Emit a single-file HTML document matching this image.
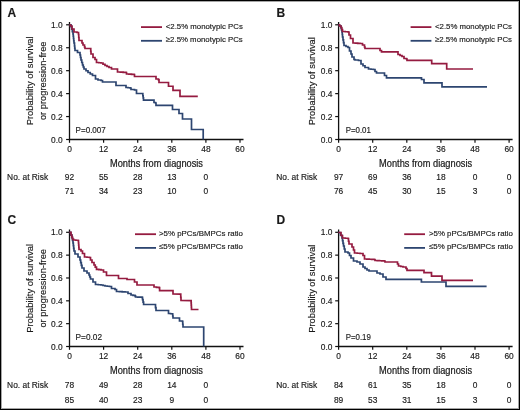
<!DOCTYPE html>
<html><head><meta charset="utf-8"><style>
html,body{margin:0;padding:0;background:#fff;}
body{width:520px;height:410px;overflow:hidden;}
svg{display:block;will-change:transform;}
text{font-family:'Liberation Sans', sans-serif;fill:#1a1a1a;stroke:#1a1a1a;stroke-width:0.15px;}
</style></head><body>
<svg width="520" height="410" viewBox="0 0 520 410">
<rect x="0" y="0" width="520" height="410" fill="#fff"/>
<text x="7.5" y="16.9" font-size="12" text-anchor="start" font-weight="bold">A</text>
<path d="M69.50,22.00 V139.50 H243.50" fill="none" stroke="#111" stroke-width="1.3"/>
<path d="M66.10,139.50 H69.50" stroke="#111" stroke-width="1.2"/>
<text x="62.7" y="142.5" font-size="8.4" text-anchor="end" font-weight="normal">0.0</text>
<path d="M66.10,116.56 H69.50" stroke="#111" stroke-width="1.2"/>
<text x="62.7" y="119.56" font-size="8.4" text-anchor="end" font-weight="normal">0.2</text>
<path d="M66.10,93.62 H69.50" stroke="#111" stroke-width="1.2"/>
<text x="62.7" y="96.62" font-size="8.4" text-anchor="end" font-weight="normal">0.4</text>
<path d="M66.10,70.68 H69.50" stroke="#111" stroke-width="1.2"/>
<text x="62.7" y="73.67999999999999" font-size="8.4" text-anchor="end" font-weight="normal">0.6</text>
<path d="M66.10,47.74 H69.50" stroke="#111" stroke-width="1.2"/>
<text x="62.7" y="50.739999999999995" font-size="8.4" text-anchor="end" font-weight="normal">0.8</text>
<path d="M66.10,24.80 H69.50" stroke="#111" stroke-width="1.2"/>
<text x="62.7" y="27.799999999999997" font-size="8.4" text-anchor="end" font-weight="normal">1.0</text>
<path d="M69.50,139.50 V142.80" stroke="#111" stroke-width="1.2"/>
<text x="69.5" y="152.1" font-size="8.4" text-anchor="middle" font-weight="normal">0</text>
<path d="M103.60,139.50 V142.80" stroke="#111" stroke-width="1.2"/>
<text x="103.6" y="152.1" font-size="8.4" text-anchor="middle" font-weight="normal">12</text>
<path d="M137.70,139.50 V142.80" stroke="#111" stroke-width="1.2"/>
<text x="137.7" y="152.1" font-size="8.4" text-anchor="middle" font-weight="normal">24</text>
<path d="M171.80,139.50 V142.80" stroke="#111" stroke-width="1.2"/>
<text x="171.8" y="152.1" font-size="8.4" text-anchor="middle" font-weight="normal">36</text>
<path d="M205.90,139.50 V142.80" stroke="#111" stroke-width="1.2"/>
<text x="205.9" y="152.1" font-size="8.4" text-anchor="middle" font-weight="normal">48</text>
<path d="M240.00,139.50 V142.80" stroke="#111" stroke-width="1.2"/>
<text x="240.0" y="152.1" font-size="8.4" text-anchor="middle" font-weight="normal">60</text>
<text x="156.5" y="166.9" font-size="10.2" text-anchor="middle" font-weight="normal" textLength="93" lengthAdjust="spacingAndGlyphs" style="stroke-width:0.22px">Months from diagnosis</text>
<g transform="translate(33.00,80.80) rotate(-90)"><text x="0" y="0" font-size="9.2" text-anchor="middle" font-weight="normal" textLength="89" lengthAdjust="spacingAndGlyphs">Probability of survival</text></g>
<g transform="translate(45.50,80.80) rotate(-90)"><text x="0" y="0" font-size="9.2" text-anchor="middle" font-weight="normal" textLength="78.6" lengthAdjust="spacingAndGlyphs">or progression-free</text></g>
<path d="M141,27.10 H162" stroke="#951b40" stroke-width="1.8"/>
<path d="M141,40.80 H162" stroke="#2d4570" stroke-width="1.8"/>
<text x="165.8" y="29.4" font-size="7.9" text-anchor="start" font-weight="normal" textLength="77" lengthAdjust="spacingAndGlyphs">&lt;2.5% monotypic PCs</text>
<text x="165.8" y="42.400000000000006" font-size="7.9" text-anchor="start" font-weight="normal" textLength="77" lengthAdjust="spacingAndGlyphs">≥2.5% monotypic PCs</text>
<text x="75.6" y="132.9" font-size="8.3" text-anchor="start" font-weight="normal" textLength="30.2" lengthAdjust="spacingAndGlyphs">P=0.007</text>
<text x="7.100000000000001" y="179.8" font-size="8.4" text-anchor="start" font-weight="normal" textLength="41" lengthAdjust="spacingAndGlyphs">No. at Risk</text>
<text x="69.5" y="179.8" font-size="8.4" text-anchor="middle" font-weight="normal">92</text>
<text x="69.5" y="194.3" font-size="8.4" text-anchor="middle" font-weight="normal">71</text>
<text x="103.6" y="179.8" font-size="8.4" text-anchor="middle" font-weight="normal">55</text>
<text x="103.6" y="194.3" font-size="8.4" text-anchor="middle" font-weight="normal">34</text>
<text x="137.7" y="179.8" font-size="8.4" text-anchor="middle" font-weight="normal">28</text>
<text x="137.7" y="194.3" font-size="8.4" text-anchor="middle" font-weight="normal">23</text>
<text x="171.8" y="179.8" font-size="8.4" text-anchor="middle" font-weight="normal">13</text>
<text x="171.8" y="194.3" font-size="8.4" text-anchor="middle" font-weight="normal">10</text>
<text x="205.9" y="179.8" font-size="8.4" text-anchor="middle" font-weight="normal">0</text>
<text x="205.9" y="194.3" font-size="8.4" text-anchor="middle" font-weight="normal">0</text>
<polyline points="69.50,24.80 71.00,24.80 71.00,26.70 71.67,26.70 71.67,29.13 72.33,29.13 72.33,31.57 73.00,31.57 73.00,34.00 73.25,34.00 73.25,36.25 73.50,36.25 73.50,38.50 73.75,38.50 73.75,40.75 74.00,40.75 74.00,43.00 74.50,43.00 74.50,46.00 74.75,46.00 74.75,48.25 75.00,48.25 75.00,50.50 77.50,50.50 77.50,52.50 80.00,52.50 80.00,55.00 80.50,55.00 80.50,57.50 81.00,57.50 81.00,60.00 81.75,60.00 81.75,62.50 82.50,62.50 82.50,65.00 83.25,65.00 83.25,67.00 84.00,67.00 84.00,69.00 86.00,69.00 86.00,70.75 88.00,70.75 88.00,72.50 90.25,72.50 90.25,74.00 92.50,74.00 92.50,75.50 95.50,75.50 95.50,79.00 98.00,79.00 98.00,80.00 101.00,80.00 101.00,80.50 102.50,80.50 102.50,82.00 114.50,82.00 116.00,82.00 116.00,85.50 125.00,85.50 126.00,85.50 126.00,87.50 128.00,87.50 128.00,87.75 130.00,87.75 130.00,88.00 131.00,88.00 131.00,89.50 134.50,89.50 134.50,90.00 136.50,90.00 136.50,93.50 142.50,93.50 142.83,93.50 142.83,95.73 143.17,95.73 143.17,97.97 143.50,97.97 143.50,100.20 153.00,100.20 154.00,100.20 154.00,102.50 155.50,102.50 155.50,103.00 156.00,103.00 156.00,105.40 172.50,105.40 172.50,109.50 179.00,109.50 179.00,113.50 182.50,113.50 182.50,119.00 191.50,119.00 191.50,129.50 203.20,129.50 203.20,139.50" fill="none" stroke="#2d4570" stroke-width="1.7" stroke-linejoin="miter" stroke-linecap="butt"/>
<polyline points="69.50,24.80 70.40,24.80 70.40,26.00 72.00,26.00 72.00,29.00 74.00,29.00 74.00,32.00 77.00,32.00 77.00,32.50 78.50,32.50 78.50,34.50 78.75,34.50 78.75,37.50 79.00,37.50 79.00,40.50 82.00,40.50 82.00,43.00 83.00,43.00 83.00,45.00 84.50,45.00 84.50,47.00 85.00,47.00 85.00,48.50 90.50,48.50 90.75,48.50 90.75,51.25 91.00,51.25 91.00,54.00 93.00,54.00 93.00,57.50 95.00,57.50 95.00,59.50 96.50,59.50 96.50,62.50 98.75,62.50 98.75,62.75 101.00,62.75 101.00,63.00 103.00,63.00 103.00,64.25 105.00,64.25 105.00,65.50 107.00,65.50 107.00,66.50 109.00,66.50 109.00,67.50 111.50,67.50 111.50,69.00 116.00,69.00 117.50,69.00 117.50,72.00 120.33,72.00 120.33,72.17 123.17,72.17 123.17,72.33 126.00,72.33 126.00,72.50 126.50,72.50 126.50,74.00 129.00,74.00 129.00,74.17 131.50,74.17 131.50,74.33 134.00,74.33 134.00,74.50 134.50,74.50 134.50,76.50 155.60,76.50 156.00,76.50 156.00,79.00 158.50,79.00 158.50,79.80 159.00,79.80 159.00,82.50 168.50,82.50 168.50,86.25 173.00,86.25 173.00,90.40 180.00,90.40 180.00,96.30 197.80,96.30" fill="none" stroke="#951b40" stroke-width="1.7" stroke-linejoin="miter" stroke-linecap="butt"/>
<text x="276.6" y="16.9" font-size="12" text-anchor="start" font-weight="bold">B</text>
<path d="M338.60,22.00 V139.50 H512.60" fill="none" stroke="#111" stroke-width="1.3"/>
<path d="M335.20,139.50 H338.60" stroke="#111" stroke-width="1.2"/>
<text x="332.5" y="142.5" font-size="8.4" text-anchor="end" font-weight="normal">0.0</text>
<path d="M335.20,116.56 H338.60" stroke="#111" stroke-width="1.2"/>
<text x="332.5" y="119.56" font-size="8.4" text-anchor="end" font-weight="normal">0.2</text>
<path d="M335.20,93.62 H338.60" stroke="#111" stroke-width="1.2"/>
<text x="332.5" y="96.62" font-size="8.4" text-anchor="end" font-weight="normal">0.4</text>
<path d="M335.20,70.68 H338.60" stroke="#111" stroke-width="1.2"/>
<text x="332.5" y="73.67999999999999" font-size="8.4" text-anchor="end" font-weight="normal">0.6</text>
<path d="M335.20,47.74 H338.60" stroke="#111" stroke-width="1.2"/>
<text x="332.5" y="50.739999999999995" font-size="8.4" text-anchor="end" font-weight="normal">0.8</text>
<path d="M335.20,24.80 H338.60" stroke="#111" stroke-width="1.2"/>
<text x="332.5" y="27.799999999999997" font-size="8.4" text-anchor="end" font-weight="normal">1.0</text>
<path d="M338.60,139.50 V142.80" stroke="#111" stroke-width="1.2"/>
<text x="338.6" y="152.1" font-size="8.4" text-anchor="middle" font-weight="normal">0</text>
<path d="M372.70,139.50 V142.80" stroke="#111" stroke-width="1.2"/>
<text x="372.70000000000005" y="152.1" font-size="8.4" text-anchor="middle" font-weight="normal">12</text>
<path d="M406.80,139.50 V142.80" stroke="#111" stroke-width="1.2"/>
<text x="406.8" y="152.1" font-size="8.4" text-anchor="middle" font-weight="normal">24</text>
<path d="M440.90,139.50 V142.80" stroke="#111" stroke-width="1.2"/>
<text x="440.90000000000003" y="152.1" font-size="8.4" text-anchor="middle" font-weight="normal">36</text>
<path d="M475.00,139.50 V142.80" stroke="#111" stroke-width="1.2"/>
<text x="475.0" y="152.1" font-size="8.4" text-anchor="middle" font-weight="normal">48</text>
<path d="M509.10,139.50 V142.80" stroke="#111" stroke-width="1.2"/>
<text x="509.1" y="152.1" font-size="8.4" text-anchor="middle" font-weight="normal">60</text>
<text x="425.6" y="166.9" font-size="10.2" text-anchor="middle" font-weight="normal" textLength="93" lengthAdjust="spacingAndGlyphs" style="stroke-width:0.22px">Months from diagnosis</text>
<g transform="translate(315.10,81.20) rotate(-90)"><text x="0" y="0" font-size="9.2" text-anchor="middle" font-weight="normal" textLength="88" lengthAdjust="spacingAndGlyphs">Probability of survival</text></g>
<path d="M410.6,27.10 H431.4" stroke="#951b40" stroke-width="1.8"/>
<path d="M410.6,40.80 H431.4" stroke="#2d4570" stroke-width="1.8"/>
<text x="435" y="29.4" font-size="7.9" text-anchor="start" font-weight="normal" textLength="77" lengthAdjust="spacingAndGlyphs">&lt;2.5% monotypic PCs</text>
<text x="435" y="42.400000000000006" font-size="7.9" text-anchor="start" font-weight="normal" textLength="77" lengthAdjust="spacingAndGlyphs">≥2.5% monotypic PCs</text>
<text x="345.70000000000005" y="132.7" font-size="8.3" text-anchor="start" font-weight="normal" textLength="25.2" lengthAdjust="spacingAndGlyphs">P=0.01</text>
<text x="276.20000000000005" y="179.8" font-size="8.4" text-anchor="start" font-weight="normal" textLength="41" lengthAdjust="spacingAndGlyphs">No. at Risk</text>
<text x="338.6" y="179.8" font-size="8.4" text-anchor="middle" font-weight="normal">97</text>
<text x="338.6" y="194.3" font-size="8.4" text-anchor="middle" font-weight="normal">76</text>
<text x="372.70000000000005" y="179.8" font-size="8.4" text-anchor="middle" font-weight="normal">69</text>
<text x="372.70000000000005" y="194.3" font-size="8.4" text-anchor="middle" font-weight="normal">45</text>
<text x="406.8" y="179.8" font-size="8.4" text-anchor="middle" font-weight="normal">36</text>
<text x="406.8" y="194.3" font-size="8.4" text-anchor="middle" font-weight="normal">30</text>
<text x="440.90000000000003" y="179.8" font-size="8.4" text-anchor="middle" font-weight="normal">18</text>
<text x="440.90000000000003" y="194.3" font-size="8.4" text-anchor="middle" font-weight="normal">15</text>
<text x="475.0" y="179.8" font-size="8.4" text-anchor="middle" font-weight="normal">0</text>
<text x="475.0" y="194.3" font-size="8.4" text-anchor="middle" font-weight="normal">3</text>
<text x="509.1" y="179.8" font-size="8.4" text-anchor="middle" font-weight="normal">0</text>
<text x="509.1" y="194.3" font-size="8.4" text-anchor="middle" font-weight="normal">0</text>
<polyline points="338.50,24.80 339.50,24.80 339.50,26.00 341.00,26.00 341.00,28.00 341.50,28.00 341.50,30.00 342.00,30.00 342.00,32.00 342.25,32.00 342.25,34.50 342.50,34.50 342.50,37.00 343.00,37.00 343.00,39.83 343.50,39.83 343.50,42.67 344.00,42.67 344.00,45.50 346.00,45.50 346.00,46.50 348.00,46.50 348.00,47.50 349.50,47.50 349.50,51.00 351.00,51.00 351.00,54.00 352.00,54.00 352.00,57.00 354.00,57.00 354.00,59.50 355.00,59.50 355.00,60.00 358.50,60.00 358.50,60.50 361.00,60.50 361.00,64.00 363.00,64.00 363.00,65.75 365.00,65.75 365.00,67.50 368.50,67.50 368.50,69.00 371.00,69.00 371.00,69.25 373.50,69.25 373.50,69.50 375.00,69.50 375.00,71.50 376.50,71.50 376.50,73.00 381.50,73.00 384.50,73.00 384.50,75.50 386.50,75.50 386.50,77.80 421.00,77.80 421.50,77.80 421.50,79.50 424.00,79.50 424.00,80.00 424.00,82.80 442.00,82.80 442.00,86.80 487.00,86.80" fill="none" stroke="#2d4570" stroke-width="1.7" stroke-linejoin="miter" stroke-linecap="butt"/>
<polyline points="338.50,24.80 339.50,24.80 339.50,26.00 341.00,26.00 341.00,27.50 341.75,27.50 341.75,29.50 342.50,29.50 342.50,31.50 345.25,31.50 345.25,31.75 348.00,31.75 348.00,32.00 349.00,32.00 349.00,35.00 350.50,35.00 350.50,38.50 353.00,38.50 353.00,40.50 353.00,43.00 355.33,43.00 355.33,43.17 357.67,43.17 357.67,43.33 360.00,43.33 360.00,43.50 362.50,43.50 362.50,45.00 364.50,45.00 364.50,47.00 365.00,47.00 365.00,48.50 379.00,48.50 380.00,48.50 380.00,50.50 381.50,50.50 381.50,51.80 396.00,51.80 398.00,51.80 398.00,54.50 400.00,54.50 400.00,55.50 402.00,55.50 402.00,56.50 404.00,56.50 404.00,58.50 406.50,58.50 406.50,59.00 407.00,59.00 407.00,60.40 431.70,60.40 431.70,63.60 446.70,63.60 446.70,69.00 473.00,69.00" fill="none" stroke="#951b40" stroke-width="1.7" stroke-linejoin="miter" stroke-linecap="butt"/>
<text x="7.5" y="224.4" font-size="12" text-anchor="start" font-weight="bold">C</text>
<path d="M69.50,229.50 V346.50 H243.50" fill="none" stroke="#111" stroke-width="1.3"/>
<path d="M66.10,346.50 H69.50" stroke="#111" stroke-width="1.2"/>
<text x="62.7" y="349.5" font-size="8.4" text-anchor="end" font-weight="normal">0.0</text>
<path d="M66.10,323.66 H69.50" stroke="#111" stroke-width="1.2"/>
<text x="62.7" y="326.66" font-size="8.4" text-anchor="end" font-weight="normal">0.2</text>
<path d="M66.10,300.82 H69.50" stroke="#111" stroke-width="1.2"/>
<text x="62.7" y="303.82" font-size="8.4" text-anchor="end" font-weight="normal">0.4</text>
<path d="M66.10,277.98 H69.50" stroke="#111" stroke-width="1.2"/>
<text x="62.7" y="280.98" font-size="8.4" text-anchor="end" font-weight="normal">0.6</text>
<path d="M66.10,255.14 H69.50" stroke="#111" stroke-width="1.2"/>
<text x="62.7" y="258.14" font-size="8.4" text-anchor="end" font-weight="normal">0.8</text>
<path d="M66.10,232.30 H69.50" stroke="#111" stroke-width="1.2"/>
<text x="62.7" y="235.3" font-size="8.4" text-anchor="end" font-weight="normal">1.0</text>
<path d="M69.50,346.50 V349.80" stroke="#111" stroke-width="1.2"/>
<text x="69.5" y="359.1" font-size="8.4" text-anchor="middle" font-weight="normal">0</text>
<path d="M103.60,346.50 V349.80" stroke="#111" stroke-width="1.2"/>
<text x="103.6" y="359.1" font-size="8.4" text-anchor="middle" font-weight="normal">12</text>
<path d="M137.70,346.50 V349.80" stroke="#111" stroke-width="1.2"/>
<text x="137.7" y="359.1" font-size="8.4" text-anchor="middle" font-weight="normal">24</text>
<path d="M171.80,346.50 V349.80" stroke="#111" stroke-width="1.2"/>
<text x="171.8" y="359.1" font-size="8.4" text-anchor="middle" font-weight="normal">36</text>
<path d="M205.90,346.50 V349.80" stroke="#111" stroke-width="1.2"/>
<text x="205.9" y="359.1" font-size="8.4" text-anchor="middle" font-weight="normal">48</text>
<path d="M240.00,346.50 V349.80" stroke="#111" stroke-width="1.2"/>
<text x="240.0" y="359.1" font-size="8.4" text-anchor="middle" font-weight="normal">60</text>
<text x="156.5" y="373.9" font-size="10.2" text-anchor="middle" font-weight="normal" textLength="93" lengthAdjust="spacingAndGlyphs" style="stroke-width:0.22px">Months from diagnosis</text>
<g transform="translate(33.00,288.30) rotate(-90)"><text x="0" y="0" font-size="9.2" text-anchor="middle" font-weight="normal" textLength="89" lengthAdjust="spacingAndGlyphs">Probability of survival</text></g>
<g transform="translate(45.50,288.30) rotate(-90)"><text x="0" y="0" font-size="9.2" text-anchor="middle" font-weight="normal" textLength="78.6" lengthAdjust="spacingAndGlyphs">or progression-free</text></g>
<path d="M135,234.20 H156" stroke="#951b40" stroke-width="1.8"/>
<path d="M135,247.90 H156" stroke="#2d4570" stroke-width="1.8"/>
<text x="159" y="236.1" font-size="7.9" text-anchor="start" font-weight="normal" textLength="84" lengthAdjust="spacingAndGlyphs">&gt;5% pPCs/BMPCs ratio</text>
<text x="159" y="249.1" font-size="7.9" text-anchor="start" font-weight="normal" textLength="84" lengthAdjust="spacingAndGlyphs">≤5% pPCs/BMPCs ratio</text>
<text x="75.6" y="339.9" font-size="8.3" text-anchor="start" font-weight="normal" textLength="26.4" lengthAdjust="spacingAndGlyphs">P=0.02</text>
<text x="7.100000000000001" y="388.0" font-size="8.4" text-anchor="start" font-weight="normal" textLength="41" lengthAdjust="spacingAndGlyphs">No. at Risk</text>
<text x="69.5" y="388.0" font-size="8.4" text-anchor="middle" font-weight="normal">78</text>
<text x="69.5" y="402.5" font-size="8.4" text-anchor="middle" font-weight="normal">85</text>
<text x="103.6" y="388.0" font-size="8.4" text-anchor="middle" font-weight="normal">49</text>
<text x="103.6" y="402.5" font-size="8.4" text-anchor="middle" font-weight="normal">40</text>
<text x="137.7" y="388.0" font-size="8.4" text-anchor="middle" font-weight="normal">28</text>
<text x="137.7" y="402.5" font-size="8.4" text-anchor="middle" font-weight="normal">23</text>
<text x="171.8" y="388.0" font-size="8.4" text-anchor="middle" font-weight="normal">14</text>
<text x="171.8" y="402.5" font-size="8.4" text-anchor="middle" font-weight="normal">9</text>
<text x="205.9" y="388.0" font-size="8.4" text-anchor="middle" font-weight="normal">0</text>
<text x="205.9" y="402.5" font-size="8.4" text-anchor="middle" font-weight="normal">0</text>
<polyline points="69.50,232.30 70.75,232.30 70.75,235.15 72.00,235.15 72.00,238.00 72.50,238.00 72.50,240.50 73.00,240.50 73.00,243.00 73.33,243.00 73.33,245.67 73.67,245.67 73.67,248.33 74.00,248.33 74.00,251.00 75.00,251.00 75.00,254.00 78.00,254.00 78.00,257.00 80.00,257.00 80.00,260.00 80.67,260.00 80.67,262.67 81.33,262.67 81.33,265.33 82.00,265.33 82.00,268.00 84.00,268.00 84.00,271.00 87.00,271.00 87.00,273.00 89.00,273.00 89.00,275.00 89.75,275.00 89.75,277.00 90.50,277.00 90.50,279.00 93.00,279.00 93.00,282.00 95.50,282.00 95.50,284.50 98.25,284.50 98.25,284.75 101.00,284.75 101.00,285.00 103.00,285.00 103.00,285.50 105.00,285.50 105.00,286.00 107.25,286.00 107.25,286.25 109.50,286.25 109.50,286.50 111.50,286.50 111.50,288.50 115.00,288.50 115.00,289.50 116.50,289.50 116.50,291.50 119.33,291.50 119.33,291.67 122.17,291.67 122.17,291.83 125.00,291.83 125.00,292.00 128.00,292.00 128.00,293.50 131.00,293.50 131.00,295.00 133.00,295.00 133.00,295.40 135.00,295.40 135.00,295.80 135.50,295.80 135.50,297.00 137.67,297.00 137.67,297.10 139.83,297.10 139.83,297.20 142.00,297.20 142.00,297.30 142.53,297.30 142.53,299.70 143.07,299.70 143.07,302.10 143.60,302.10 143.60,304.50 155.00,304.50 155.50,304.50 155.50,307.60 156.00,307.60 156.00,310.50 168.00,310.50 168.50,310.50 168.50,313.50 170.50,313.50 170.50,313.75 172.50,313.75 172.50,314.00 172.75,314.00 172.75,316.00 173.00,316.00 173.00,318.00 179.00,318.00 179.50,318.00 179.50,321.00 182.50,321.00 182.50,321.50 182.75,321.50 182.75,324.25 183.00,324.25 183.00,327.00 203.70,327.00 203.70,346.50" fill="none" stroke="#2d4570" stroke-width="1.7" stroke-linejoin="miter" stroke-linecap="butt"/>
<polyline points="69.50,232.30 71.00,232.30 71.00,235.00 71.75,235.00 71.75,237.00 72.50,237.00 72.50,239.00 73.50,239.00 73.50,240.00 75.75,240.00 75.75,240.25 78.00,240.25 78.00,240.50 78.50,240.50 78.50,243.00 78.67,243.00 78.67,245.17 78.83,245.17 78.83,247.33 79.00,247.33 79.00,249.50 81.00,249.50 81.00,251.00 82.50,251.00 82.50,253.50 84.50,253.50 84.50,257.00 87.00,257.00 87.00,257.25 89.50,257.25 89.50,257.50 90.50,257.50 90.50,260.00 92.00,260.00 92.00,262.50 94.00,262.50 94.00,265.00 95.25,265.00 95.25,267.15 96.50,267.15 96.50,269.30 98.75,269.30 98.75,269.65 101.00,269.65 101.00,270.00 103.50,270.00 103.50,272.00 106.50,272.00 106.50,275.50 115.00,275.50 118.50,275.50 118.50,278.50 125.00,278.50 127.00,278.50 127.00,279.50 133.50,279.50 134.50,279.50 134.50,282.00 137.00,282.00 137.00,285.00 153.00,285.00 154.00,285.00 154.00,287.00 156.50,287.00 156.50,287.30 159.00,287.30 159.00,287.60 159.60,287.60 159.60,290.70 172.00,290.70 173.00,290.70 173.00,294.00 180.50,294.20 180.75,294.20 180.75,297.30 181.00,297.30 181.00,300.40 191.00,300.60 191.12,300.60 191.12,302.83 191.25,302.83 191.25,305.05 191.38,305.05 191.38,307.27 191.50,307.27 191.50,309.50 198.50,309.50" fill="none" stroke="#951b40" stroke-width="1.7" stroke-linejoin="miter" stroke-linecap="butt"/>
<text x="276.6" y="224.4" font-size="12" text-anchor="start" font-weight="bold">D</text>
<path d="M338.60,229.50 V346.50 H512.60" fill="none" stroke="#111" stroke-width="1.3"/>
<path d="M335.20,346.50 H338.60" stroke="#111" stroke-width="1.2"/>
<text x="332.5" y="349.5" font-size="8.4" text-anchor="end" font-weight="normal">0.0</text>
<path d="M335.20,323.66 H338.60" stroke="#111" stroke-width="1.2"/>
<text x="332.5" y="326.66" font-size="8.4" text-anchor="end" font-weight="normal">0.2</text>
<path d="M335.20,300.82 H338.60" stroke="#111" stroke-width="1.2"/>
<text x="332.5" y="303.82" font-size="8.4" text-anchor="end" font-weight="normal">0.4</text>
<path d="M335.20,277.98 H338.60" stroke="#111" stroke-width="1.2"/>
<text x="332.5" y="280.98" font-size="8.4" text-anchor="end" font-weight="normal">0.6</text>
<path d="M335.20,255.14 H338.60" stroke="#111" stroke-width="1.2"/>
<text x="332.5" y="258.14" font-size="8.4" text-anchor="end" font-weight="normal">0.8</text>
<path d="M335.20,232.30 H338.60" stroke="#111" stroke-width="1.2"/>
<text x="332.5" y="235.3" font-size="8.4" text-anchor="end" font-weight="normal">1.0</text>
<path d="M338.60,346.50 V349.80" stroke="#111" stroke-width="1.2"/>
<text x="338.6" y="359.1" font-size="8.4" text-anchor="middle" font-weight="normal">0</text>
<path d="M372.70,346.50 V349.80" stroke="#111" stroke-width="1.2"/>
<text x="372.70000000000005" y="359.1" font-size="8.4" text-anchor="middle" font-weight="normal">12</text>
<path d="M406.80,346.50 V349.80" stroke="#111" stroke-width="1.2"/>
<text x="406.8" y="359.1" font-size="8.4" text-anchor="middle" font-weight="normal">24</text>
<path d="M440.90,346.50 V349.80" stroke="#111" stroke-width="1.2"/>
<text x="440.90000000000003" y="359.1" font-size="8.4" text-anchor="middle" font-weight="normal">36</text>
<path d="M475.00,346.50 V349.80" stroke="#111" stroke-width="1.2"/>
<text x="475.0" y="359.1" font-size="8.4" text-anchor="middle" font-weight="normal">48</text>
<path d="M509.10,346.50 V349.80" stroke="#111" stroke-width="1.2"/>
<text x="509.1" y="359.1" font-size="8.4" text-anchor="middle" font-weight="normal">60</text>
<text x="425.6" y="373.9" font-size="10.2" text-anchor="middle" font-weight="normal" textLength="93" lengthAdjust="spacingAndGlyphs" style="stroke-width:0.22px">Months from diagnosis</text>
<g transform="translate(315.10,288.70) rotate(-90)"><text x="0" y="0" font-size="9.2" text-anchor="middle" font-weight="normal" textLength="88" lengthAdjust="spacingAndGlyphs">Probability of survival</text></g>
<path d="M404.2,234.20 H425" stroke="#951b40" stroke-width="1.8"/>
<path d="M404.2,247.90 H425" stroke="#2d4570" stroke-width="1.8"/>
<text x="428.9" y="236.1" font-size="7.9" text-anchor="start" font-weight="normal" textLength="84" lengthAdjust="spacingAndGlyphs">&gt;5% pPCs/BMPCs ratio</text>
<text x="428.9" y="249.1" font-size="7.9" text-anchor="start" font-weight="normal" textLength="84" lengthAdjust="spacingAndGlyphs">≤5% pPCs/BMPCs ratio</text>
<text x="345.70000000000005" y="339.5" font-size="8.3" text-anchor="start" font-weight="normal" textLength="25.2" lengthAdjust="spacingAndGlyphs">P=0.19</text>
<text x="276.20000000000005" y="388.0" font-size="8.4" text-anchor="start" font-weight="normal" textLength="41" lengthAdjust="spacingAndGlyphs">No. at Risk</text>
<text x="338.6" y="388.0" font-size="8.4" text-anchor="middle" font-weight="normal">84</text>
<text x="338.6" y="402.5" font-size="8.4" text-anchor="middle" font-weight="normal">89</text>
<text x="372.70000000000005" y="388.0" font-size="8.4" text-anchor="middle" font-weight="normal">61</text>
<text x="372.70000000000005" y="402.5" font-size="8.4" text-anchor="middle" font-weight="normal">53</text>
<text x="406.8" y="388.0" font-size="8.4" text-anchor="middle" font-weight="normal">35</text>
<text x="406.8" y="402.5" font-size="8.4" text-anchor="middle" font-weight="normal">31</text>
<text x="440.90000000000003" y="388.0" font-size="8.4" text-anchor="middle" font-weight="normal">18</text>
<text x="440.90000000000003" y="402.5" font-size="8.4" text-anchor="middle" font-weight="normal">15</text>
<text x="475.0" y="388.0" font-size="8.4" text-anchor="middle" font-weight="normal">0</text>
<text x="475.0" y="402.5" font-size="8.4" text-anchor="middle" font-weight="normal">3</text>
<text x="509.1" y="388.0" font-size="8.4" text-anchor="middle" font-weight="normal">0</text>
<text x="509.1" y="402.5" font-size="8.4" text-anchor="middle" font-weight="normal">0</text>
<polyline points="338.50,232.30 339.00,232.50 340.50,232.50 340.50,235.25 342.00,235.25 342.00,238.00 342.50,238.00 342.50,240.67 343.00,240.67 343.00,243.33 343.50,243.33 343.50,246.00 344.25,246.00 344.25,249.00 345.00,249.00 345.00,252.00 348.00,252.00 348.00,253.00 349.50,253.00 349.50,255.50 351.00,255.50 351.00,258.00 353.50,258.00 353.50,261.00 357.00,261.00 357.00,262.00 360.00,262.00 360.00,264.00 363.00,264.00 363.00,267.00 365.00,267.00 365.00,268.50 367.00,268.50 367.00,270.00 369.00,270.00 369.00,271.00 375.00,271.00 377.00,271.00 377.00,273.00 380.00,273.00 380.00,274.00 383.00,274.00 383.00,277.00 386.00,277.00 386.00,279.30 421.00,279.30 421.40,279.30 421.40,282.00 446.00,282.00 446.00,286.40 486.60,286.40" fill="none" stroke="#2d4570" stroke-width="1.7" stroke-linejoin="miter" stroke-linecap="butt"/>
<polyline points="338.50,232.30 339.00,232.50 341.00,232.50 341.00,235.50 342.50,235.50 342.50,238.00 345.25,238.00 345.25,238.25 348.00,238.25 348.00,238.50 348.50,238.50 348.50,241.25 349.00,241.25 349.00,244.00 352.00,244.00 352.00,247.00 353.50,247.00 353.50,250.00 354.50,250.00 354.50,253.00 357.25,253.00 357.25,253.25 360.00,253.25 360.00,253.50 363.00,253.50 363.00,255.50 364.50,255.50 364.50,259.00 366.88,259.00 366.88,259.12 369.25,259.12 369.25,259.25 371.62,259.25 371.62,259.38 374.00,259.38 374.00,259.50 375.00,259.50 375.00,260.50 377.25,260.50 377.25,260.62 379.50,260.62 379.50,260.75 381.75,260.75 381.75,260.88 384.00,260.88 384.00,261.00 385.00,261.00 385.00,262.00 396.00,262.00 397.50,262.00 397.50,264.00 398.50,264.00 398.50,266.00 400.75,266.00 400.75,266.50 403.00,266.50 403.00,267.00 406.00,267.00 406.00,268.50 407.00,268.50 407.00,270.30 424.00,270.30 424.00,272.60 431.00,272.60 431.50,272.60 431.50,276.20 442.00,276.20 442.00,280.40 473.00,280.40" fill="none" stroke="#951b40" stroke-width="1.7" stroke-linejoin="miter" stroke-linecap="butt"/>
<rect x="0.5" y="0.5" width="519" height="409" fill="none" stroke="#000" stroke-width="1"/>
<rect x="1.5" y="1.5" width="517" height="407" fill="none" stroke="#000" stroke-opacity="0.35" stroke-width="1"/>
</svg>
</body></html>
